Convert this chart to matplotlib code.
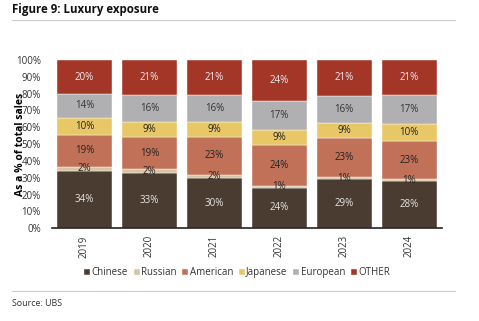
import numpy as np
import matplotlib.pyplot as plt

years = ['2019', '2020', '2021', '2022', '2023', '2024']
series = ['Chinese', 'Russian', 'American', 'Japanese', 'European', 'OTHER']
chinese = [34, 33, 30, 24, 29, 28]
russian = [2, 2, 2, 1, 1, 1]
american = [19, 19, 23, 24, 23, 23]
japanese = [10, 9, 9, 9, 9, 10]
european = [14, 16, 16, 17, 16, 17]
other = [20, 21, 21, 24, 21, 21]

colors = ['#4b3c31', '#d8c4a2', '#c27159', '#e8c766', '#b0b0b3', '#a43628']
text_colors = ['#e6e6e6', '#222222', '#222222', '#222222', '#333333', '#eeeeee']

plt.rcParams['font.family'] = ['Open Sans', 'DejaVu Sans']

fig = plt.figure(figsize=(4.79, 3.21), dpi=100)
ax = fig.add_axes([52 / 479, 1 - 228.3 / 321, (441.7 - 52) / 479, (228.3 - 60) / 321])

data = np.array([chinese, russian, american, japanese, european, other], dtype=float)
shares = data / data.sum(axis=0) * 100
x = np.arange(len(years))
bottom = np.zeros(len(years))
for i, name in enumerate(series):
    ax.bar(x, shares[i], 0.85, bottom=bottom, color=colors[i], label=name,
           edgecolor='white', linewidth=0.3)
    for j in range(len(years)):
        ax.text(x[j], bottom[j] + shares[i][j] / 2, '%d%%' % data[i][j],
                ha='center', va='center', fontsize=7, color=text_colors[i])
    bottom += shares[i]

ax.set_xlim(-0.5, 5.5)
ax.set_ylim(0, 100)
ax.set_yticks(np.arange(0, 101, 10))
ax.set_yticklabels(['%d%%' % v for v in range(0, 101, 10)])
ax.set_xticks(x)
ax.set_xticklabels(years, rotation=90)
ax.tick_params(axis='both', length=0, labelsize=7, colors='#333333')
ax.tick_params(axis='y', pad=8)
ax.tick_params(axis='x', pad=5)
for s in ['top', 'right', 'left']:
    ax.spines[s].set_visible(False)
ax.spines['bottom'].set_color('#222222')
ax.spines['bottom'].set_linewidth(1.2)
# the source puts the label right on top of the tick labels
ax.set_ylabel('As a % of total sales', fontsize=7.5, fontweight='bold')
ax.yaxis.set_label_coords(-0.068, 0.5)

ax.legend(loc='upper center', bbox_to_anchor=(0.475, -0.18), ncol=6, frameon=False,
          fontsize=7, handlelength=0.6, handleheight=0.6, handletextpad=0.15,
          columnspacing=0.6, labelcolor='#333333')

fig.text(12 / 479, 1 - 10 / 321, 'Figure 9: Luxury exposure', fontsize=8.3,
         fontweight='bold', va='center', ha='left', color='#111111')
fig.add_artist(plt.Line2D([12 / 479, 455 / 479], [1 - 20 / 321, 1 - 20 / 321],
                          color='#cccccc', linewidth=0.8))
fig.add_artist(plt.Line2D([12 / 479, 455 / 479], [1 - 291 / 321, 1 - 291 / 321],
                          color='#cccccc', linewidth=0.8))
fig.text(12 / 479, 1 - 303 / 321, 'Source: UBS', fontsize=6.4, va='center',
         ha='left', color='#333333')

fig.savefig('out.png', dpi=100)
